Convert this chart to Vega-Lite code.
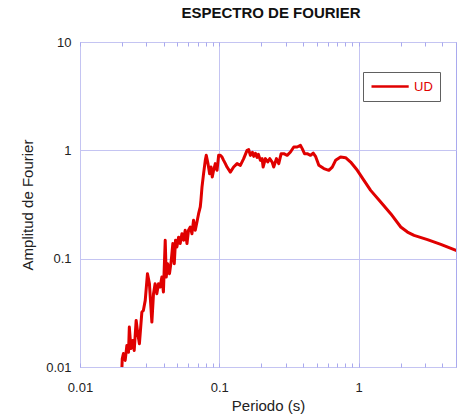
{
  "$schema": "https://vega.github.io/schema/vega-lite/v6.json",
  "width": 376,
  "height": 325,
  "autosize": "none",
  "padding": {"left": 80, "top": 42, "right": 5, "bottom": 50},
  "config": {
    "font": "Liberation Sans",
    "view": {"stroke": "#a9a9ee", "strokeWidth": 1}
  },
  "title": {
    "text": "ESPECTRO DE FOURIER",
    "fontSize": 15,
    "fontWeight": "bold",
    "color": "#111111",
    "anchor": "middle",
    "offset": 15,
    "dx": 3
  },
  "data": {
    "values": [
      {"periodo": 0.0200, "amplitud": 0.0100, "serie": "UD"},
      {"periodo": 0.0201, "amplitud": 0.0119, "serie": "UD"},
      {"periodo": 0.0205, "amplitud": 0.0133, "serie": "UD"},
      {"periodo": 0.0211, "amplitud": 0.0115, "serie": "UD"},
      {"periodo": 0.0217, "amplitud": 0.0158, "serie": "UD"},
      {"periodo": 0.0223, "amplitud": 0.0137, "serie": "UD"},
      {"periodo": 0.0226, "amplitud": 0.0234, "serie": "UD"},
      {"periodo": 0.0232, "amplitud": 0.0148, "serie": "UD"},
      {"periodo": 0.0239, "amplitud": 0.0176, "serie": "UD"},
      {"periodo": 0.0245, "amplitud": 0.0142, "serie": "UD"},
      {"periodo": 0.0253, "amplitud": 0.0269, "serie": "UD"},
      {"periodo": 0.0260, "amplitud": 0.0203, "serie": "UD"},
      {"periodo": 0.0267, "amplitud": 0.0164, "serie": "UD"},
      {"periodo": 0.0278, "amplitud": 0.0321, "serie": "UD"},
      {"periodo": 0.0285, "amplitud": 0.0333, "serie": "UD"},
      {"periodo": 0.0294, "amplitud": 0.0412, "serie": "UD"},
      {"periodo": 0.0305, "amplitud": 0.0727, "serie": "UD"},
      {"periodo": 0.0315, "amplitud": 0.0588, "serie": "UD"},
      {"periodo": 0.0328, "amplitud": 0.0260, "serie": "UD"},
      {"periodo": 0.0337, "amplitud": 0.0475, "serie": "UD"},
      {"periodo": 0.0346, "amplitud": 0.0588, "serie": "UD"},
      {"periodo": 0.0356, "amplitud": 0.0475, "serie": "UD"},
      {"periodo": 0.0366, "amplitud": 0.0588, "serie": "UD"},
      {"periodo": 0.0376, "amplitud": 0.0547, "serie": "UD"},
      {"periodo": 0.0387, "amplitud": 0.0676, "serie": "UD"},
      {"periodo": 0.0397, "amplitud": 0.0492, "serie": "UD"},
      {"periodo": 0.0409, "amplitud": 0.148, "serie": "UD"},
      {"periodo": 0.0416, "amplitud": 0.0676, "serie": "UD"},
      {"periodo": 0.0425, "amplitud": 0.0899, "serie": "UD"},
      {"periodo": 0.0439, "amplitud": 0.0727, "serie": "UD"},
      {"periodo": 0.0452, "amplitud": 0.0965, "serie": "UD"},
      {"periodo": 0.0464, "amplitud": 0.138, "serie": "UD"},
      {"periodo": 0.0475, "amplitud": 0.0899, "serie": "UD"},
      {"periodo": 0.0485, "amplitud": 0.148, "serie": "UD"},
      {"periodo": 0.0496, "amplitud": 0.128, "serie": "UD"},
      {"periodo": 0.0510, "amplitud": 0.158, "serie": "UD"},
      {"periodo": 0.0524, "amplitud": 0.138, "serie": "UD"},
      {"periodo": 0.0539, "amplitud": 0.170, "serie": "UD"},
      {"periodo": 0.0554, "amplitud": 0.148, "serie": "UD"},
      {"periodo": 0.0569, "amplitud": 0.183, "serie": "UD"},
      {"periodo": 0.0586, "amplitud": 0.138, "serie": "UD"},
      {"periodo": 0.0601, "amplitud": 0.183, "serie": "UD"},
      {"periodo": 0.0619, "amplitud": 0.196, "serie": "UD"},
      {"periodo": 0.0636, "amplitud": 0.170, "serie": "UD"},
      {"periodo": 0.0653, "amplitud": 0.226, "serie": "UD"},
      {"periodo": 0.0672, "amplitud": 0.183, "serie": "UD"},
      {"periodo": 0.0691, "amplitud": 0.218, "serie": "UD"},
      {"periodo": 0.0710, "amplitud": 0.260, "serie": "UD"},
      {"periodo": 0.0730, "amplitud": 0.300, "serie": "UD"},
      {"periodo": 0.0738, "amplitud": 0.345, "serie": "UD"},
      {"periodo": 0.0751, "amplitud": 0.458, "serie": "UD"},
      {"periodo": 0.0771, "amplitud": 0.609, "serie": "UD"},
      {"periodo": 0.0793, "amplitud": 0.808, "serie": "UD"},
      {"periodo": 0.0806, "amplitud": 0.899, "serie": "UD"},
      {"periodo": 0.0829, "amplitud": 0.754, "serie": "UD"},
      {"periodo": 0.0852, "amplitud": 0.609, "serie": "UD"},
      {"periodo": 0.0872, "amplitud": 0.701, "serie": "UD"},
      {"periodo": 0.0890, "amplitud": 0.567, "serie": "UD"},
      {"periodo": 0.0910, "amplitud": 0.654, "serie": "UD"},
      {"periodo": 0.0936, "amplitud": 0.754, "serie": "UD"},
      {"periodo": 0.0963, "amplitud": 0.654, "serie": "UD"},
      {"periodo": 0.0989, "amplitud": 0.899, "serie": "UD"},
      {"periodo": 0.1017, "amplitud": 0.899, "serie": "UD"},
      {"periodo": 0.1046, "amplitud": 0.867, "serie": "UD"},
      {"periodo": 0.1074, "amplitud": 0.808, "serie": "UD"},
      {"periodo": 0.1105, "amplitud": 0.754, "serie": "UD"},
      {"periodo": 0.1136, "amplitud": 0.701, "serie": "UD"},
      {"periodo": 0.1200, "amplitud": 0.630, "serie": "UD"},
      {"periodo": 0.1267, "amplitud": 0.701, "serie": "UD"},
      {"periodo": 0.1341, "amplitud": 0.754, "serie": "UD"},
      {"periodo": 0.1416, "amplitud": 0.727, "serie": "UD"},
      {"periodo": 0.1496, "amplitud": 0.838, "serie": "UD"},
      {"periodo": 0.1582, "amplitud": 1.000, "serie": "UD"},
      {"periodo": 0.1625, "amplitud": 1.015, "serie": "UD"},
      {"periodo": 0.1671, "amplitud": 0.899, "serie": "UD"},
      {"periodo": 0.1728, "amplitud": 0.958, "serie": "UD"},
      {"periodo": 0.1766, "amplitud": 0.880, "serie": "UD"},
      {"periodo": 0.1816, "amplitud": 0.938, "serie": "UD"},
      {"periodo": 0.1867, "amplitud": 0.862, "serie": "UD"},
      {"periodo": 0.1908, "amplitud": 0.918, "serie": "UD"},
      {"periodo": 0.1972, "amplitud": 0.808, "serie": "UD"},
      {"periodo": 0.2029, "amplitud": 0.838, "serie": "UD"},
      {"periodo": 0.2063, "amplitud": 0.701, "serie": "UD"},
      {"periodo": 0.2142, "amplitud": 0.838, "serie": "UD"},
      {"periodo": 0.2226, "amplitud": 0.780, "serie": "UD"},
      {"periodo": 0.2301, "amplitud": 0.838, "serie": "UD"},
      {"periodo": 0.2394, "amplitud": 0.780, "serie": "UD"},
      {"periodo": 0.2458, "amplitud": 0.701, "serie": "UD"},
      {"periodo": 0.2570, "amplitud": 0.838, "serie": "UD"},
      {"periodo": 0.2671, "amplitud": 0.754, "serie": "UD"},
      {"periodo": 0.2779, "amplitud": 0.932, "serie": "UD"},
      {"periodo": 0.2901, "amplitud": 0.932, "serie": "UD"},
      {"periodo": 0.3069, "amplitud": 0.899, "serie": "UD"},
      {"periodo": 0.3242, "amplitud": 0.965, "serie": "UD"},
      {"periodo": 0.3424, "amplitud": 1.073, "serie": "UD"},
      {"periodo": 0.3622, "amplitud": 1.073, "serie": "UD"},
      {"periodo": 0.3825, "amplitud": 1.112, "serie": "UD"},
      {"periodo": 0.3936, "amplitud": 1.037, "serie": "UD"},
      {"periodo": 0.4088, "amplitud": 0.932, "serie": "UD"},
      {"periodo": 0.4274, "amplitud": 0.932, "serie": "UD"},
      {"periodo": 0.4515, "amplitud": 0.899, "serie": "UD"},
      {"periodo": 0.4721, "amplitud": 0.944, "serie": "UD"},
      {"periodo": 0.4904, "amplitud": 0.880, "serie": "UD"},
      {"periodo": 0.5181, "amplitud": 0.727, "serie": "UD"},
      {"periodo": 0.5629, "amplitud": 0.678, "serie": "UD"},
      {"periodo": 0.6113, "amplitud": 0.654, "serie": "UD"},
      {"periodo": 0.6468, "amplitud": 0.701, "serie": "UD"},
      {"periodo": 0.6832, "amplitud": 0.808, "serie": "UD"},
      {"periodo": 0.7422, "amplitud": 0.867, "serie": "UD"},
      {"periodo": 0.8063, "amplitud": 0.856, "serie": "UD"},
      {"periodo": 0.8759, "amplitud": 0.780, "serie": "UD"},
      {"periodo": 0.9786, "amplitud": 0.654, "serie": "UD"},
      {"periodo": 1.092, "amplitud": 0.528, "serie": "UD"},
      {"periodo": 1.220, "amplitud": 0.427, "serie": "UD"},
      {"periodo": 1.440, "amplitud": 0.333, "serie": "UD"},
      {"periodo": 1.699, "amplitud": 0.260, "serie": "UD"},
      {"periodo": 2.006, "amplitud": 0.196, "serie": "UD"},
      {"periodo": 2.241, "amplitud": 0.176, "serie": "UD"},
      {"periodo": 2.500, "amplitud": 0.164, "serie": "UD"},
      {"periodo": 3.120, "amplitud": 0.150, "serie": "UD"},
      {"periodo": 3.890, "amplitud": 0.1355, "serie": "UD"},
      {"periodo": 5.000, "amplitud": 0.1193, "serie": "UD"}
    ]
  },
  "layer": [
    {
      "mark": {"type": "line", "strokeWidth": 3, "strokeJoin": "round", "strokeCap": "round", "clip": true},
      "encoding": {
        "x": {
          "field": "periodo",
          "type": "quantitative",
          "scale": {"type": "log", "domain": [0.01, 5], "nice": false},
          "axis": {
            "orient": "bottom",
            "title": "Periodo (s)",
            "titleFontSize": 15,
            "titleFontWeight": "normal",
            "titleColor": "#222222",
            "titlePadding": 4,
            "values": [0.01, 0.02, 0.03, 0.04, 0.05, 0.06, 0.07, 0.08, 0.09, 0.1, 0.2, 0.3, 0.4, 0.5, 0.6, 0.7, 0.8, 0.9, 1, 2, 3, 4, 5],
            "labelExpr": "abs(log(datum.value)/LN10 - round(log(datum.value)/LN10)) < 1e-6 ? format(datum.value, '~g') : ''",
            "labelFontSize": 13,
            "labelColor": "#222222",
            "labelFlush": false,
            "labelOverlap": false,
            "labelPadding": 18,
            "domain": false,
            "ticks": true,
            "tickSize": -4,
            "tickColor": "#a9a9ee",
            "grid": true,
            "gridColor": "#c4c4f2",
            "gridOpacity": {
              "condition": {"test": "abs(log(datum.value)/LN10 - round(log(datum.value)/LN10)) < 1e-6", "value": 1},
              "value": 0
            }
          }
        },
        "y": {
          "field": "amplitud",
          "type": "quantitative",
          "scale": {"type": "log", "domain": [0.01, 10], "nice": false},
          "axis": {
            "title": "Amplitud de Fourier",
            "titleFontSize": 15,
            "titleFontWeight": "normal",
            "titleColor": "#222222",
            "titlePadding": 10,
            "values": [0.01, 0.1, 1, 10],
            "format": "~g",
            "labelFontSize": 13,
            "labelColor": "#222222",
            "labelFlush": false,
            "labelOverlap": false,
            "labelPadding": 9,
            "domain": false,
            "ticks": false,
            "grid": true,
            "gridColor": "#c4c4f2"
          }
        },
        "color": {
          "field": "serie",
          "type": "nominal",
          "scale": {"range": ["#e00000"]},
          "legend": {
            "title": null,
            "orient": "none",
            "legendX": 283,
            "legendY": 30,
            "symbolType": "M-1,0H5.2",
            "symbolSize": 144,
            "symbolStrokeWidth": 2.5,
            "labelFontSize": 13,
            "labelColor": "#e00000",
            "labelOffset": 29,
            "padding": 7,
            "strokeColor": "#606060",
            "fillColor": "#ffffff"
          }
        }
      }
    },
    {
      "mark": {"type": "line", "strokeOpacity": 0},
      "encoding": {
        "x": {
          "field": "periodo",
          "type": "quantitative",
          "scale": {"type": "log", "domain": [0.01, 5], "nice": false},
          "axis": {
            "orient": "top",
            "title": null,
            "values": [0.01, 0.02, 0.03, 0.04, 0.05, 0.06, 0.07, 0.08, 0.09, 0.1, 0.2, 0.3, 0.4, 0.5, 0.6, 0.7, 0.8, 0.9, 1, 2, 3, 4, 5],
            "labels": false,
            "domain": false,
            "grid": false,
            "ticks": true,
            "tickSize": -4,
            "tickColor": "#a9a9ee"
          }
        },
        "y": {
          "field": "amplitud",
          "type": "quantitative",
          "scale": {"type": "log", "domain": [0.01, 10], "nice": false}
        }
      }
    }
  ],
  "resolve": {"axis": {"x": "independent"}}
}
